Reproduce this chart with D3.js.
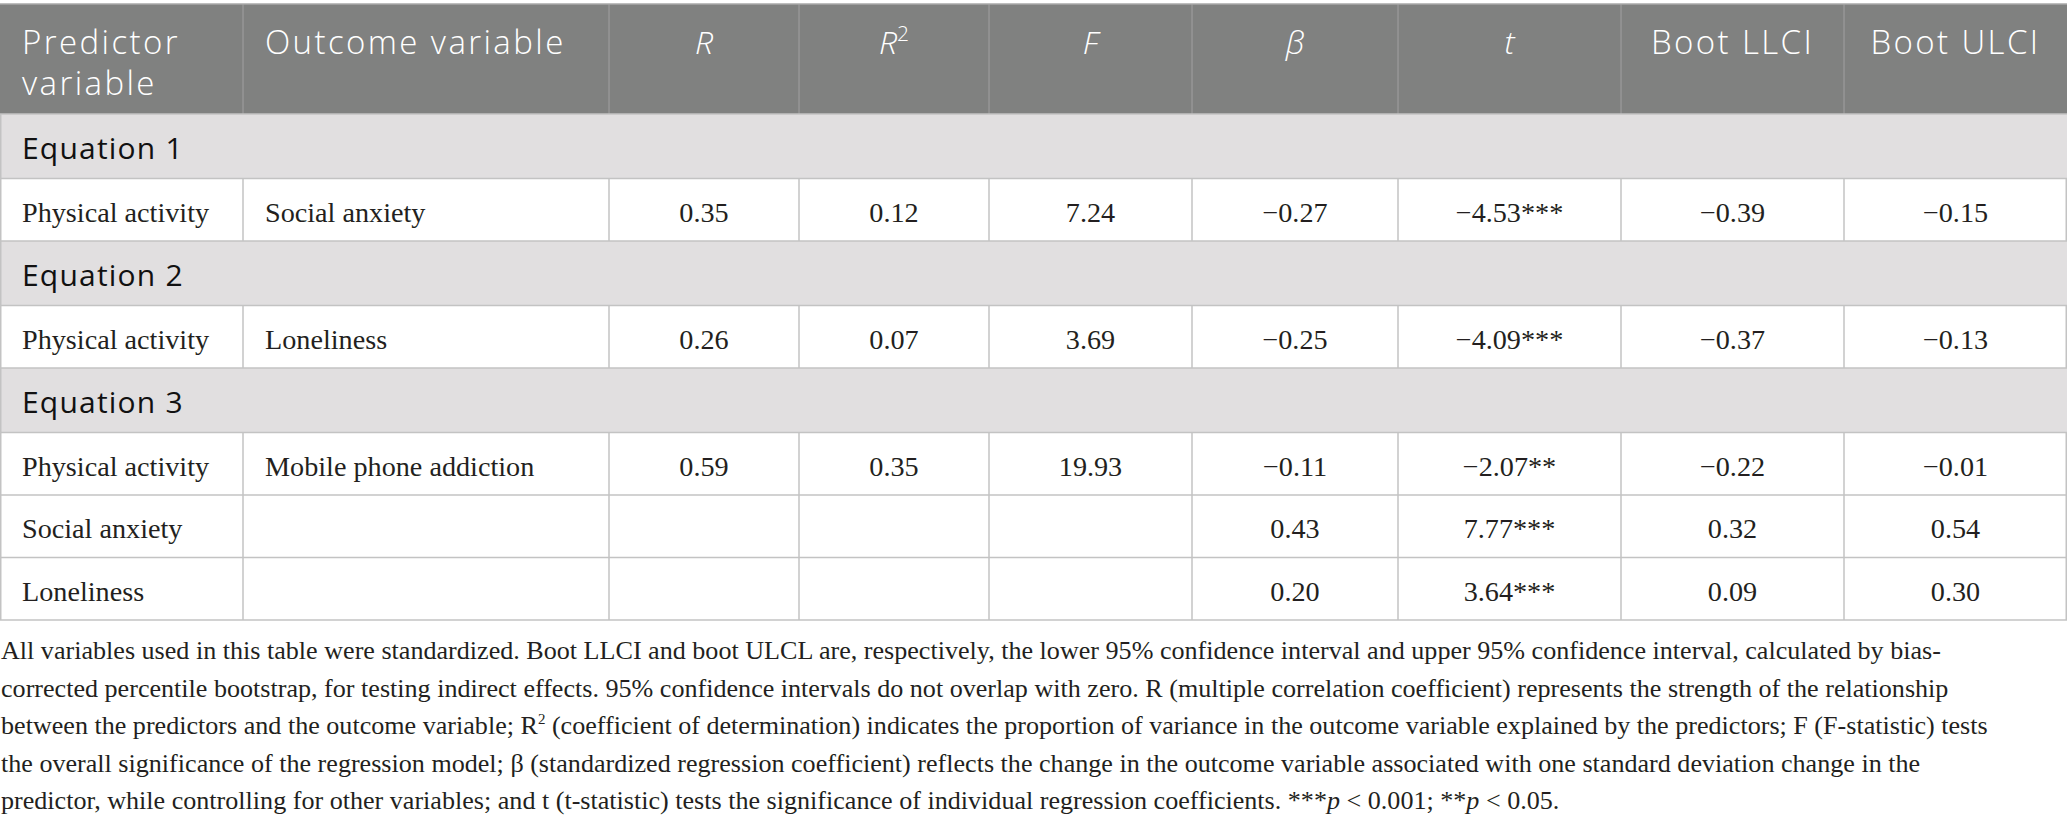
<!DOCTYPE html>
<html>
<head>
<meta charset="utf-8">
<script src="https://cdn.jsdelivr.net/npm/d3@7"></script>
<style>
  body { margin: 0; background: #fff; }
</style>
</head>
<body>
<div id="table"></div>
<script>
// table content
var headers = [["Predictor", "variable"], ["Outcome variable"], ["R"], ["R2"], ["F"], ["β"], ["t"], ["Boot LLCI"], ["Boot ULCI"]]
var equations = ["Equation 1", "Equation 2", "Equation 3"]
var rowEquation = [0, 1, 2, 2, 2]
var predictors = ["Physical activity", "Physical activity", "Physical activity", "Social anxiety", "Loneliness"]
var outcomes = ["Social anxiety", "Loneliness", "Mobile phone addiction", "", ""]
var rValues = [0.35, 0.26, 0.59, null, null]
var r2Values = [0.12, 0.07, 0.35, null, null]
var fValues = [7.24, 3.69, 19.93, null, null]
var betaValues = [-0.27, -0.25, -0.11, 0.43, 0.20]
var tValues = [-4.53, -4.09, -2.07, 7.77, 3.64]
var tStars = ["***", "***", "**", "***", "***"]
var llciValues = [-0.39, -0.37, -0.22, 0.32, 0.09]
var ulciValues = [-0.15, -0.13, -0.01, 0.54, 0.30]

var notes = [
  [["All variables used in this table were standardized. Boot LLCI and boot ULCL are, respectively, the lower 95% confidence interval and upper 95% confidence interval, calculated by bias-"]],
  [["corrected percentile bootstrap, for testing indirect effects. 95% confidence intervals do not overlap with zero. R (multiple correlation coefficient) represents the strength of the relationship"]],
  [["between the predictors and the outcome variable; R"], ["2", "sup"], [" (coefficient of determination) indicates the proportion of variance in the outcome variable explained by the predictors; F (F-statistic) tests"]],
  [["the overall significance of the regression model; β (standardized regression coefficient) reflects the change in the outcome variable associated with one standard deviation change in the"]],
  [["predictor, while controlling for other variables; and t (t-statistic) tests the significance of individual regression coefficients. ***"], ["p", "it"], [" < 0.001; **"], ["p", "it"], [" < 0.05."]]
]

// layout
var width = 2068, height = 825
var colWidths = [243, 366, 190, 190, 203, 206, 223, 223, 223]
var colEdges = [0].concat(Array.from(d3.cumsum(colWidths)))
var tableTop = 4, headerH = 110, eqH = 64.5, rowH = 62.5
var sans = "'Open Sans', sans-serif"
var serif = "'Liberation Serif', 'Times New Roman', serif"
var ink = "#231f20"
var lineColor = "#c3c3c3"

var fmt = function(v) {
  if (v === null) return ""
  return d3.format(".2f")(v).replace("-", "\u2212")
}

var svg = d3.select("#table")
  .append("svg")
  .attr("width", width)
  .attr("height", height)

// build body rows: equation bands interleaved with data rows
var rows = []
var y = tableTop + headerH
predictors.forEach(function(p, i) {
  if (i === 0 || rowEquation[i] !== rowEquation[i - 1]) {
    rows.push({type: "eq", label: equations[rowEquation[i]], y: y, h: eqH})
    y += eqH
  }
  rows.push({type: "data", y: y, h: rowH,
    cells: [p, outcomes[i], fmt(rValues[i]), fmt(r2Values[i]), fmt(fValues[i]),
            fmt(betaValues[i]), fmt(tValues[i]) + tStars[i], fmt(llciValues[i]), fmt(ulciValues[i])]})
  y += rowH
})
var tableBottom = y
var tableRight = colEdges[colEdges.length - 1]

// header
svg.append("rect")
  .attr("x", 0).attr("y", tableTop)
  .attr("width", tableRight).attr("height", headerH)
  .attr("fill", "#808180")

svg.append("g").selectAll("line")
  .data(colEdges.slice(1, -1))
  .enter().append("line")
  .attr("x1", function(d) { return d }).attr("x2", function(d) { return d })
  .attr("y1", tableTop).attr("y2", tableTop + headerH)
  .attr("stroke", "#9c9c9c").attr("stroke-width", 1.2)

var headX = function(i) { return i < 2 ? colEdges[i] + 22 : (colEdges[i] + colEdges[i + 1]) / 2 }

var head = svg.append("g").selectAll("text")
  .data(headers)
  .enter().append("text")
  .attr("font-family", sans)
  .attr("font-size", 33)
  .attr("font-weight", 300)
  .attr("letter-spacing", 2.4)
  .attr("fill", "#fff")
  .attr("text-anchor", function(d, i) { return i < 2 ? "start" : "middle" })
  .attr("x", function(d, i) { return headX(i) })
  .attr("y", tableTop + 50)

head.each(function(d, i) {
  var t = d3.select(this)
  if (i >= 2 && i <= 6) {
    var name = d[0]
    t.attr("letter-spacing", 0).attr("font-size", 32)
    if (name === "R2") {
      t.append("tspan").attr("font-style", "italic").text("R")
      t.append("tspan").attr("font-size", 21).attr("dy", -13).text("2")
    } else {
      t.append("tspan").attr("font-style", "italic").text(name)
    }
  } else {
    d.forEach(function(line, k) {
      t.append("tspan")
        .attr("x", headX(i))
        .attr("dy", k === 0 ? 0 : 41)
        .text(line)
    })
  }
})

// body rows
var body = svg.append("g")
var eqRows = rows.filter(function(r) { return r.type === "eq" })
var dataRows = rows.filter(function(r) { return r.type === "data" })

body.selectAll("rect.eq")
  .data(eqRows)
  .enter().append("rect")
  .attr("class", "eq")
  .attr("x", 0).attr("y", function(d) { return d.y })
  .attr("width", tableRight).attr("height", function(d) { return d.h })
  .attr("fill", "#e1dfe0")

body.selectAll("text.eq")
  .data(eqRows)
  .enter().append("text")
  .attr("class", "eq")
  .attr("x", 22).attr("y", function(d) { return d.y + 45 })
  .attr("font-family", sans).attr("font-size", 30)
  .attr("letter-spacing", 1.2)
  .attr("fill", "#111")
  .text(function(d) { return d.label })

// vertical lines in data rows
dataRows.forEach(function(r) {
  body.append("g").selectAll("line")
    .data(colEdges)
    .enter().append("line")
    .attr("x1", function(d) { return Math.min(Math.max(d, 0.75), tableRight - 0.75) })
    .attr("x2", function(d) { return Math.min(Math.max(d, 0.75), tableRight - 0.75) })
    .attr("y1", r.y).attr("y2", r.y + r.h)
    .attr("stroke", lineColor).attr("stroke-width", 1.5)
})

// left/right edges of equation rows
body.selectAll("line.edge")
  .data(eqRows)
  .enter().append("line")
  .attr("x1", 0.75).attr("x2", 0.75)
  .attr("y1", function(d) { return d.y }).attr("y2", function(d) { return d.y + d.h })
  .attr("stroke", lineColor).attr("stroke-width", 1.5)

// horizontal rules
var rules = rows.map(function(r) { return r.y }).concat([tableBottom])
body.selectAll("line.rule")
  .data(rules)
  .enter().append("line")
  .attr("x1", 0).attr("x2", tableRight)
  .attr("y1", function(d) { return d }).attr("y2", function(d) { return d })
  .attr("stroke", lineColor).attr("stroke-width", 1.5)

svg.append("line")
  .attr("x1", 0).attr("x2", tableRight)
  .attr("y1", tableTop).attr("y2", tableTop)
  .attr("stroke", "#a8a8a8").attr("stroke-width", 1.5)

// cell text
dataRows.forEach(function(r) {
  body.append("g").selectAll("text")
    .data(r.cells)
    .enter().append("text")
    .attr("font-family", serif).attr("font-size", 28.2)
    .attr("fill", ink)
    .attr("text-anchor", function(d, i) { return i < 2 ? "start" : "middle" })
    .attr("x", function(d, i) { return i < 2 ? colEdges[i] + 22 : (colEdges[i] + colEdges[i + 1]) / 2 })
    .attr("y", r.y + 43)
    .text(function(d) { return d })
})

// footnote
var note = svg.append("g")
notes.forEach(function(parts, k) {
  var t = note.append("text")
    .attr("x", 1).attr("y", tableBottom + 39 + k * 37.6)
    .attr("font-family", serif).attr("font-size", 26.1)
    .attr("fill", ink)
  parts.forEach(function(p, j) {
    var s = t.append("tspan").text(p[0])
    if (p[1] === "sup") s.attr("font-size", 15).attr("dy", -10)
    if (p[1] === "it") s.attr("font-style", "italic")
    if (j > 0 && parts[j - 1][1] === "sup") s.attr("dy", 10)
  })
})
</script>
</body>
</html>
